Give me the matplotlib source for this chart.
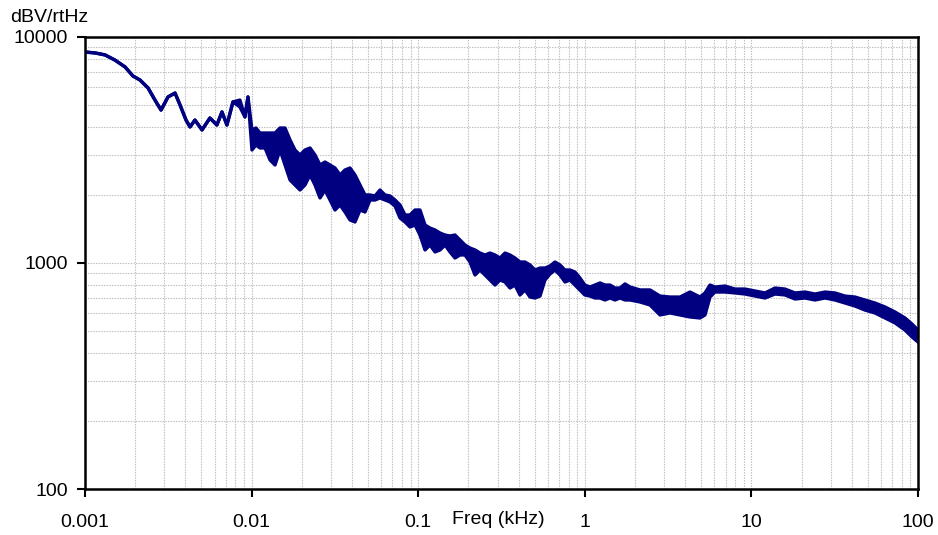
import matplotlib
matplotlib.use("Agg")
import matplotlib.pyplot as plt
from matplotlib.ticker import LogLocator, FixedLocator, NullFormatter

plt.rcParams['font.family'] = ['Liberation Sans', 'DejaVu Sans']

# Frequency in kHz
freq = [0.001, 0.00115, 0.00132, 0.00151, 0.00174, 0.00194, 0.00214, 0.00239, 0.00263, 0.00286,
        0.00315, 0.00347, 0.00372, 0.00404, 0.00427, 0.00457, 0.00504, 0.00562, 0.00619, 0.00664,
        0.00711, 0.00773, 0.00851, 0.00912, 0.00951,
        0.01005, 0.01062, 0.01123, 0.01204, 0.01290, 0.01382, 0.01481, 0.01587, 0.01701, 0.01822,
        0.01952, 0.02092, 0.02242, 0.02402, 0.02574, 0.02758, 0.02956, 0.03167, 0.03394, 0.03637,
        0.03897, 0.04175, 0.04475, 0.04795, 0.05138, 0.05505, 0.05899, 0.06321, 0.06773, 0.07258,
        0.07778, 0.08334, 0.08930, 0.09568, 0.1025, 0.1099, 0.1177, 0.1262, 0.1352, 0.1449,
        0.1552, 0.1663, 0.1782, 0.1910, 0.2046, 0.2193, 0.2350, 0.2518, 0.2698, 0.2891,
        0.3097, 0.3319, 0.3556, 0.3811, 0.4083, 0.4376, 0.4689, 0.5024, 0.5383, 0.5768,
        0.6181, 0.6623, 0.7097, 0.7605, 0.8149, 0.8732, 0.9358, 1.0, 1.075, 1.151,
        1.234, 1.322, 1.417, 1.518, 1.627, 1.743, 1.868, 2.145, 2.463, 2.828,
        3.247, 3.728, 4.280, 4.914, 5.266, 5.643, 6.046, 6.942, 7.972, 9.154,
        10.51, 12.07, 13.86, 15.91, 18.27, 20.98, 24.08, 27.66, 31.75, 36.46,
        41.87, 48.08, 55.20, 63.38, 72.78, 83.56, 92.0, 100]

# Upper edge of the trace, dBV/rtHz
upper = [8580, 8500, 8330, 7910, 7370, 6720, 6450, 5950, 5260, 4750,
         5430, 5650, 5000, 4290, 4000, 4290, 3880, 4380, 4080, 4660,
         4080, 5160, 5260, 4430, 5430,
         3878, 3957, 3760, 3760, 3760, 3760, 3957, 3957, 3502, 3162,
         3006, 3162, 3228, 3006, 2714, 2798, 2714, 2633, 2452, 2580,
         2633, 2452, 2214, 2000, 2000, 1980, 2104, 2000, 1980, 1900,
         1806, 1631, 1631, 1716, 1716, 1473, 1428, 1400, 1357, 1330,
         1317, 1330, 1264, 1201, 1165, 1142, 1107, 1085, 1107, 1085,
         1052, 1107, 1085, 1052, 1010, 1010, 980, 931, 950, 950,
         970, 1010, 980, 931, 931, 912, 858, 799, 783, 799,
         816, 799, 799, 775, 775, 808, 783, 760, 760, 714,
         707, 707, 744, 707, 737, 799, 783, 791, 767, 767,
         752, 737, 775, 767, 737, 744, 729, 744, 737, 714,
         707, 686, 665, 639, 607, 571, 537, 505]

# Lower edge of the trace, dBV/rtHz
lower = [8580, 8500, 8330, 7910, 7370, 6720, 6450, 5950, 5260, 4750,
         5430, 5650, 5000, 4290, 4000, 4290, 3880, 4380, 4080, 4660,
         4080, 5160, 4900, 4430, 5430,
         3162, 3328, 3228, 3228, 2856, 2714, 3162, 2714, 2330, 2214,
         2104, 2214, 2452, 2214, 1940, 2104, 1900, 1716, 1806, 1681,
         1550, 1519, 1716, 1681, 1900, 1900, 1940, 1900, 1862, 1787,
         1582, 1519, 1443, 1473, 1330, 1142, 1201, 1119, 1142, 1201,
         1119, 1052, 1085, 1085, 1010, 885, 931, 885, 841, 799,
         841, 824, 775, 799, 722, 760, 707, 700, 714, 841,
         894, 931, 885, 824, 841, 799, 760, 722, 714, 700,
         700, 686, 700, 686, 700, 686, 686, 672, 652, 589,
         601, 589, 577, 571, 589, 707, 744, 744, 737, 729,
         714, 700, 729, 722, 693, 700, 686, 700, 686, 665,
         645, 619, 601, 571, 543, 505, 471, 447]

x_ticks = [0.001, 0.01, 0.1, 1, 10, 100]
x_labels = ["0.001", "0.01", "0.1", "1", "10", "100"]
y_ticks = [100, 1000, 10000]
y_labels = ["100", "1000", "10000"]

fig = plt.figure(figsize=(9.38, 5.35), dpi=100)
ax = fig.add_axes([85/938, 1-489/535, (918-85)/938, (489-37)/535])

navy = '#000080'
ax.fill_between(freq, lower, upper, color=navy, lw=0)
ax.plot(freq, upper, color=navy, lw=2.4)
ax.plot(freq, lower, color=navy, lw=2.4)

ax.set_xscale('log')
ax.set_yscale('log')
ax.set_xlim(0.001, 100)
ax.set_ylim(100, 10000)

ax.xaxis.set_major_locator(FixedLocator(x_ticks))
ax.set_xticklabels(x_labels)
ax.yaxis.set_major_locator(FixedLocator(y_ticks))
ax.set_yticklabels(y_labels)
ax.xaxis.set_minor_locator(LogLocator(base=10, subs=range(2, 10), numticks=20))
ax.yaxis.set_minor_locator(LogLocator(base=10, subs=range(2, 10), numticks=20))
ax.xaxis.set_minor_formatter(NullFormatter())
ax.yaxis.set_minor_formatter(NullFormatter())

ax.grid(True, which='both', color='#bcbcbc', lw=0.8, ls=(0, (1.2, 1.2)))
ax.set_axisbelow(True)

ax.tick_params(which='major', direction='out', length=6, width=1.5, labelsize=14,
               colors='black', pad=12)
ax.tick_params(axis='y', which='major', pad=6)
ax.tick_params(which='minor', length=0)

for s in ax.spines.values():
    s.set_linewidth(1.8)
    s.set_color('black')

fig.text(10/938, 1-17/535, "dBV/rtHz", fontsize=14, ha='left', va='center')
ax.text(0.16, -0.068, "Freq (kHz)", transform=ax.get_xaxis_transform(), fontsize=14,
        ha='left', va='center')

fig.savefig("out.png", dpi=100)
